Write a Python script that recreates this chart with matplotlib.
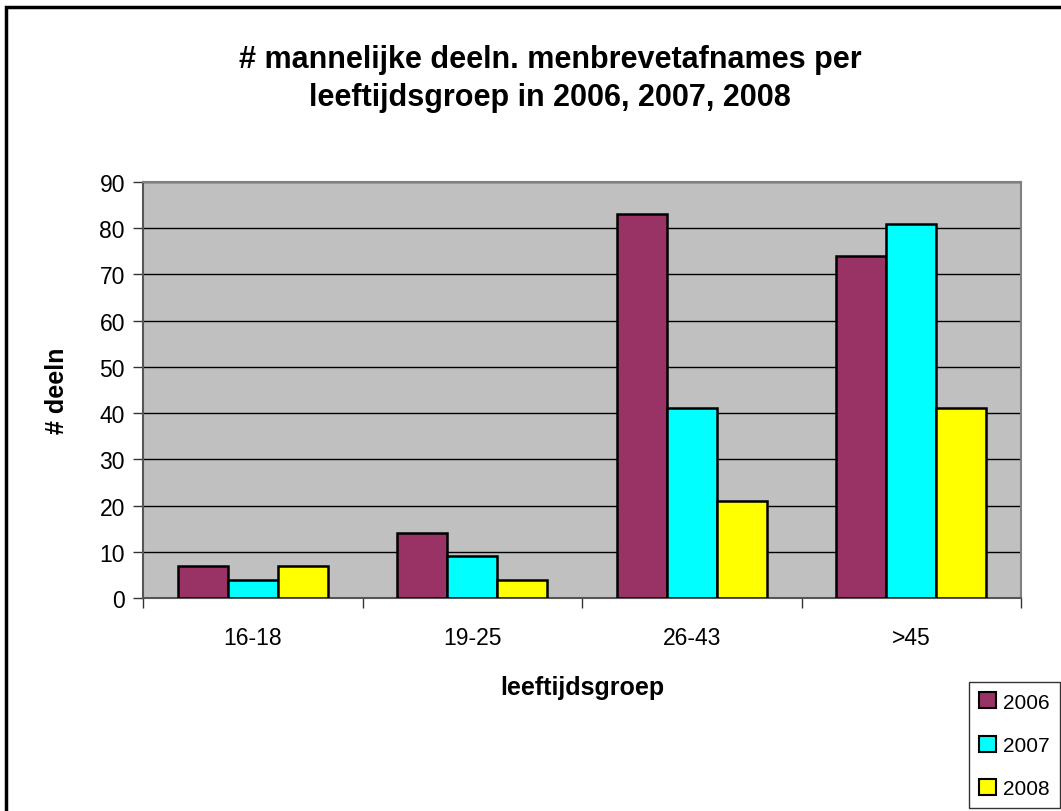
import matplotlib
matplotlib.use('Agg')
import matplotlib.pyplot as plt
import matplotlib.patches as mpatches
import numpy as np

plt.rcParams['font.family'] = ['Liberation Sans', 'DejaVu Sans']

# data
groepen = ['16-18', '19-25', '26-43', '>45']
jaren = ['2006', '2007', '2008']
d2006 = [7, 14, 83, 74]
d2007 = [4, 9, 41, 81]
d2008 = [7, 4, 21, 41]
kleuren = ['#993366', '#00FFFF', '#FFFF00']

W, H = 1061, 812
fig = plt.figure(figsize=(W / 100, H / 100), dpi=100)
ax = fig.add_axes([143 / W, 1 - 599 / H, 878 / W, 416 / H])
ax.set_facecolor('#C0C0C0')

x = np.arange(len(groepen)) + 0.5
bw = 0.228
for i, (vals, kl, jr) in enumerate(zip([d2006, d2007, d2008], kleuren, jaren)):
    ax.bar(x + (i - 1) * bw, vals, bw, color=kl, edgecolor='black', linewidth=1.8,
           label=jr, zorder=3)

ax.set_xlim(0, 4)
ax.set_ylim(0, 90)
ax.set_yticks(range(0, 91, 10))
ax.yaxis.grid(True, color='black', linewidth=1.0, zorder=1)
ax.set_axisbelow(True)

# category ticks between groups, labels centred
ax.set_xticks(range(0, 5))
ax.set_xticklabels([])
ax.set_xticks(x, minor=True)
ax.set_xticklabels(groepen, minor=True)
ax.tick_params(axis='x', which='minor', length=0, pad=20, labelsize=16.5)
ax.tick_params(axis='x', which='major', length=7, width=1, color='#333333', direction='out')
ax.tick_params(axis='y', length=7, width=1, color='#333333', labelsize=16.5, pad=6)

for s in ['top', 'right']:
    ax.spines[s].set_color('#808080')
    ax.spines[s].set_linewidth(1.5)
ax.spines['left'].set_color('#555555')
ax.spines['bottom'].set_color('#555555')
ax.spines['left'].set_linewidth(1.5)
ax.spines['bottom'].set_linewidth(1.5)

ax.set_ylabel('# deeln', fontsize=18, fontweight='bold', labelpad=22)
ax.set_xlabel('leeftijdsgroep', fontsize=18, fontweight='bold', labelpad=19)

fig.text(550 / W, 1 - 79 / H, '# mannelijke deeln. menbrevetafnames per\nleeftijdsgroep in 2006, 2007, 2008',
         ha='center', va='center', fontsize=22, fontweight='bold', linespacing=1.35)

leg = fig.legend(loc='upper left', bbox_to_anchor=(969 / W, 1 - 683 / H),
                 fontsize=15, frameon=True, fancybox=False, handlelength=0.8,
                 handleheight=0.8, handletextpad=0.35, labelspacing=1.15,
                 borderaxespad=0, borderpad=0.5)
leg.get_frame().set_edgecolor('black')
leg.get_frame().set_linewidth(1.0)
for p in leg.get_patches():
    p.set_linewidth(1.5)

# outer chart border
fig.add_artist(mpatches.Rectangle((6 / W, -0.2), 2, 1.2 - 8 / H, transform=fig.transFigure,
                                  fill=False, edgecolor='black', linewidth=2.5, clip_on=False))

fig.savefig('out.png', dpi=100)
